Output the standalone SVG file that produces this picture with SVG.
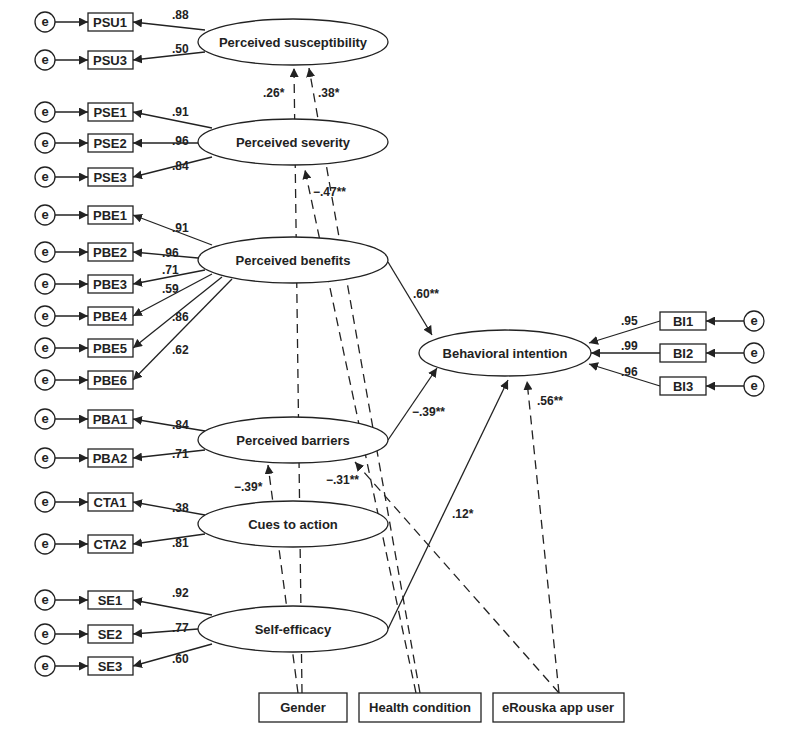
<svg xmlns="http://www.w3.org/2000/svg" width="800" height="733" viewBox="0 0 800 733">
<defs><marker id="a" viewBox="0 0 10 10" refX="10" refY="5" markerWidth="9" markerHeight="9" markerUnits="userSpaceOnUse" orient="auto"><path d="M0,0L10,5L0,10z" fill="#222"/></marker></defs>
<style>
text{font-family:"Liberation Sans",Arial,sans-serif;font-weight:bold;fill:#222}
.t{font-size:13px;text-anchor:middle}
.l{font-size:12px}
.s{stroke:#222;stroke-width:1.3;fill:none}
.d{stroke:#222;stroke-width:1.3;fill:none;stroke-dasharray:9,6}
ellipse,rect,circle{fill:#fff;stroke:#222;stroke-width:1.3}
</style>
<rect width="800" height="733" style="fill:#fff;stroke:none"/>
<g id="connectors">
<g class="s" marker-end="url(#a)">
<line x1="35" y1="22" x2="88" y2="22"/><line x1="35" y1="60" x2="88" y2="60"/>
<line x1="35" y1="112" x2="88" y2="112"/><line x1="35" y1="143" x2="88" y2="143"/><line x1="35" y1="177" x2="88" y2="177"/>
<line x1="35" y1="215" x2="88" y2="215"/><line x1="35" y1="252" x2="88" y2="252"/><line x1="35" y1="284" x2="88" y2="284"/><line x1="35" y1="316" x2="88" y2="316"/><line x1="35" y1="348" x2="88" y2="348"/><line x1="35" y1="380" x2="88" y2="380"/>
<line x1="35" y1="419" x2="88" y2="419"/><line x1="35" y1="458" x2="88" y2="458"/>
<line x1="35" y1="502" x2="88" y2="502"/><line x1="35" y1="544" x2="88" y2="544"/>
<line x1="35" y1="600" x2="88" y2="600"/><line x1="35" y1="634" x2="88" y2="634"/><line x1="35" y1="666" x2="88" y2="666"/>
<line x1="744" y1="321" x2="706" y2="321"/><line x1="744" y1="353" x2="706" y2="353"/><line x1="744" y1="386" x2="706" y2="386"/>
<line x1="205" y1="30" x2="133" y2="22"/><line x1="205" y1="52" x2="133" y2="60"/>
<line x1="212" y1="128" x2="133" y2="112"/><line x1="198" y1="143" x2="133" y2="143"/><line x1="212" y1="157" x2="133" y2="177"/>
<line x1="212" y1="245" x2="133" y2="215"/><line x1="198" y1="258" x2="133" y2="252"/><line x1="205" y1="270" x2="133" y2="284"/><line x1="212" y1="274" x2="133" y2="316"/><line x1="222" y1="277" x2="133" y2="348"/><line x1="232" y1="279" x2="133" y2="380"/>
<line x1="205" y1="431" x2="133" y2="419"/><line x1="205" y1="450" x2="133" y2="458"/>
<line x1="205" y1="515" x2="133" y2="502"/><line x1="205" y1="534" x2="133" y2="544"/>
<line x1="212" y1="615" x2="133" y2="600"/><line x1="198" y1="629" x2="133" y2="634"/><line x1="212" y1="644" x2="133" y2="666"/>
<line x1="660" y1="321" x2="589" y2="343"/><line x1="660" y1="353" x2="591" y2="353"/><line x1="660" y1="386" x2="589" y2="364"/>
<line x1="388" y1="262" x2="432" y2="335"/>
<line x1="388" y1="440" x2="437" y2="368"/>
<line x1="388" y1="629" x2="508" y2="380"/>
</g>
<g class="d" marker-end="url(#a)">
<line x1="302" y1="693" x2="294" y2="68"/>
<line x1="298" y1="693" x2="268" y2="465"/>
<line x1="420" y1="693" x2="309" y2="68"/>
<line x1="416" y1="693" x2="305" y2="170"/>
<line x1="559" y1="693" x2="355" y2="462"/>
<line x1="559" y1="693" x2="527" y2="381"/>
</g>
</g>
<g id="labels" class="l">
<text x="172" y="19">.88</text><text x="172" y="53">.50</text>
<text x="172" y="116">.91</text><text x="172" y="145">.96</text><text x="172" y="170">.84</text>
<text x="172" y="232">.91</text><text x="162" y="257">.96</text><text x="162" y="274">.71</text><text x="162" y="293">.59</text><text x="172" y="321">.86</text><text x="172" y="354">.62</text>
<text x="172" y="429">.84</text><text x="172" y="458">.71</text>
<text x="172" y="512">.38</text><text x="172" y="547">.81</text>
<text x="172" y="597">.92</text><text x="172" y="632">.77</text><text x="172" y="663">.60</text>
<text x="621" y="325">.95</text><text x="621" y="350">.99</text><text x="621" y="376">.96</text>
<text x="263" y="97">.26*</text><text x="318" y="97">.38*</text><text x="313" y="196">−.47**</text>
<text x="413" y="298">.60**</text><text x="412" y="416">−.39**</text>
<text x="234" y="491">−.39*</text><text x="326" y="484">−.31**</text>
<text x="452" y="518">.12*</text><text x="537" y="405">.56**</text>
</g>
<g id="nodes">
<g id="PSU"><ellipse cx="293" cy="42" rx="95" ry="23"/><text class="t" x="293" y="47">Perceived susceptibility</text></g>
<g id="PSE"><ellipse cx="293" cy="142" rx="95" ry="23"/><text class="t" x="293" y="147">Perceived severity</text></g>
<g id="PBE"><ellipse cx="293" cy="260" rx="95" ry="23"/><text class="t" x="293" y="265">Perceived benefits</text></g>
<g id="PBA"><ellipse cx="293" cy="440" rx="95" ry="23"/><text class="t" x="293" y="445">Perceived barriers</text></g>
<g id="CTA"><ellipse cx="293" cy="524" rx="95" ry="23"/><text class="t" x="293" y="529">Cues to action</text></g>
<g id="SE"><ellipse cx="293" cy="629" rx="95" ry="23"/><text class="t" x="293" y="634">Self-efficacy</text></g>
<g id="BI"><ellipse cx="505" cy="353" rx="86" ry="23"/><text class="t" x="505" y="358">Behavioral intention</text></g>
<g id="Gender"><rect x="259" y="693" width="88" height="29"/><text class="t" x="303" y="712">Gender</text></g>
<g id="Health"><rect x="359" y="693" width="122" height="29"/><text class="t" x="420" y="712">Health condition</text></g>
<g id="eRouska"><rect x="493" y="693" width="131" height="29"/><text class="t" x="558" y="712">eRouska app user</text></g>
</g>
<g id="indicators" font-size="12">
<g><circle cx="45" cy="22" r="10"/><text class="t" x="45" y="26">e</text><rect x="88" y="13" width="45" height="18"/><text class="t" x="110" y="27">PSU1</text></g>
<g><circle cx="45" cy="60" r="10"/><text class="t" x="45" y="64">e</text><rect x="88" y="51" width="45" height="18"/><text class="t" x="110" y="65">PSU3</text></g>
<g><circle cx="45" cy="112" r="10"/><text class="t" x="45" y="116">e</text><rect x="88" y="103" width="45" height="18"/><text class="t" x="110" y="117">PSE1</text></g>
<g><circle cx="45" cy="143" r="10"/><text class="t" x="45" y="147">e</text><rect x="88" y="134" width="45" height="18"/><text class="t" x="110" y="148">PSE2</text></g>
<g><circle cx="45" cy="177" r="10"/><text class="t" x="45" y="181">e</text><rect x="88" y="168" width="45" height="18"/><text class="t" x="110" y="182">PSE3</text></g>
<g><circle cx="45" cy="215" r="10"/><text class="t" x="45" y="219">e</text><rect x="88" y="206" width="45" height="18"/><text class="t" x="110" y="220">PBE1</text></g>
<g><circle cx="45" cy="252" r="10"/><text class="t" x="45" y="256">e</text><rect x="88" y="243" width="45" height="18"/><text class="t" x="110" y="257">PBE2</text></g>
<g><circle cx="45" cy="284" r="10"/><text class="t" x="45" y="288">e</text><rect x="88" y="275" width="45" height="18"/><text class="t" x="110" y="289">PBE3</text></g>
<g><circle cx="45" cy="316" r="10"/><text class="t" x="45" y="320">e</text><rect x="88" y="307" width="45" height="18"/><text class="t" x="110" y="321">PBE4</text></g>
<g><circle cx="45" cy="348" r="10"/><text class="t" x="45" y="352">e</text><rect x="88" y="339" width="45" height="18"/><text class="t" x="110" y="353">PBE5</text></g>
<g><circle cx="45" cy="380" r="10"/><text class="t" x="45" y="384">e</text><rect x="88" y="371" width="45" height="18"/><text class="t" x="110" y="385">PBE6</text></g>
<g><circle cx="45" cy="419" r="10"/><text class="t" x="45" y="423">e</text><rect x="88" y="410" width="45" height="18"/><text class="t" x="110" y="424">PBA1</text></g>
<g><circle cx="45" cy="458" r="10"/><text class="t" x="45" y="462">e</text><rect x="88" y="449" width="45" height="18"/><text class="t" x="110" y="463">PBA2</text></g>
<g><circle cx="45" cy="502" r="10"/><text class="t" x="45" y="506">e</text><rect x="88" y="493" width="45" height="18"/><text class="t" x="110" y="507">CTA1</text></g>
<g><circle cx="45" cy="544" r="10"/><text class="t" x="45" y="548">e</text><rect x="88" y="535" width="45" height="18"/><text class="t" x="110" y="549">CTA2</text></g>
<g><circle cx="45" cy="600" r="10"/><text class="t" x="45" y="604">e</text><rect x="88" y="591" width="45" height="18"/><text class="t" x="110" y="605">SE1</text></g>
<g><circle cx="45" cy="634" r="10"/><text class="t" x="45" y="638">e</text><rect x="88" y="625" width="45" height="18"/><text class="t" x="110" y="639">SE2</text></g>
<g><circle cx="45" cy="666" r="10"/><text class="t" x="45" y="670">e</text><rect x="88" y="657" width="45" height="18"/><text class="t" x="110" y="671">SE3</text></g>
<g><circle cx="754" cy="321" r="10"/><text class="t" x="754" y="325">e</text><rect x="660" y="312" width="46" height="18"/><text class="t" x="683" y="326">BI1</text></g>
<g><circle cx="754" cy="353" r="10"/><text class="t" x="754" y="357">e</text><rect x="660" y="344" width="46" height="18"/><text class="t" x="683" y="358">BI2</text></g>
<g><circle cx="754" cy="386" r="10"/><text class="t" x="754" y="390">e</text><rect x="660" y="377" width="46" height="18"/><text class="t" x="683" y="391">BI3</text></g>
</g>
</svg>
